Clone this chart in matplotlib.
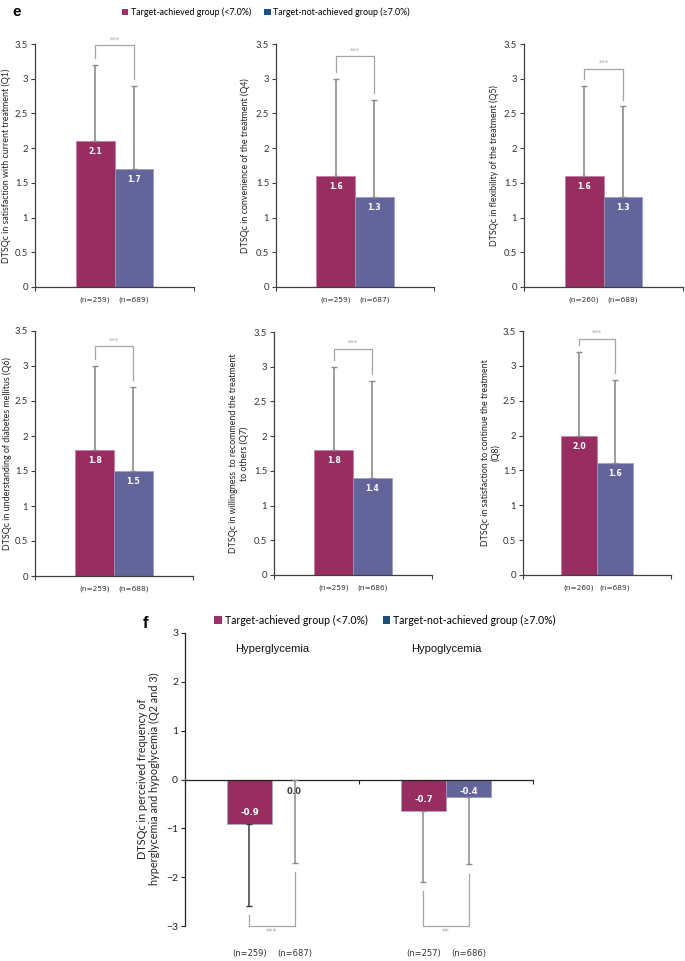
import matplotlib
matplotlib.use('Agg')
import matplotlib.pyplot as plt
from matplotlib.patches import Patch

# Panel e data (DTSQc items, mean and SD per group)
e_labels = ['DTSQc in satisfaction with current treatment (Q1)',
            'DTSQc in convenience of the treatment (Q4)',
            'DTSQc in flexibility of the treatment (Q5)',
            'DTSQc in understanding of diabetes mellitus (Q6)',
            'DTSQc in willingness  to recommend the treatment\nto others (Q7)',
            'DTSQc in satisfaction to continue the treatment\n(Q8)']
ach_mean = [2.1, 1.6, 1.6, 1.8, 1.8, 2.0]
ach_sd = [1.1, 1.4, 1.3, 1.2, 1.2, 1.2]
not_mean = [1.7, 1.3, 1.3, 1.5, 1.4, 1.6]
not_sd = [1.2, 1.4, 1.3, 1.2, 1.4, 1.2]
ach_n = [259, 259, 260, 259, 259, 260]
not_n = [689, 687, 688, 688, 686, 689]
e_sig = ['***', '***', '***', '***', '***', '***']
e_bracket = [3.48, 3.32, 3.14, 3.28, 3.26, 3.39]

# Panel f data
f_cats = ['Hyperglycemia', 'Hypoglycemia']
f_ach_mean = [-0.91, -0.64]
f_ach_text = ['-0.9', '-0.7']
f_ach_sd = [1.69, 1.46]
f_not_mean = [0.0, -0.36]
f_not_text = ['0.0', '-0.4']
f_not_sd = [1.70, 1.38]
f_ach_n = [259, 257]
f_not_n = [687, 686]
f_sig = ['***', '**']

MAG = '#982d61'
BLU = '#63659a'
ERR = '#8c8c8c'
AX = '#404040'
SIGC = '#a6a6a6'
MAIN = 'Lato'
NUM = 'DejaVu Sans'

W, H = 685, 961
fig = plt.figure(figsize=(6.85, 9.61), dpi=100)


def px_axes(x0, x1, ytop, ybot):
    return fig.add_axes([x0 / W, 1 - ybot / H, (x1 - x0) / W, (ybot - ytop) / H])


# pixel boxes of the six panels (left, right, top, zero line) and label centres
boxes = [(35, 194, 44, 287), (276, 434, 44, 287), (524, 683, 44, 287),
         (35, 193, 331, 576), (274, 432, 332, 575), (523, 671, 331, 575)]
lab_x = [6, 245.5, 494.5, 7, 239, 491]

for i, (x0, x1, yt, yb) in enumerate(boxes):
    ax = px_axes(x0, x1, yt, yb)
    xa, xb = -0.245, 0.245
    ax.bar([xa], [ach_mean[i]], width=0.49, color=MAG, edgecolor='#c77aa0', linewidth=0.5, zorder=2)
    ax.bar([xb], [not_mean[i]], width=0.49, color=BLU, edgecolor='#9899c0', linewidth=0.5, zorder=2)
    ax.errorbar([xa], [ach_mean[i]], yerr=[[0], [ach_sd[i]]], fmt='none', ecolor=ERR,
                elinewidth=1.2, capsize=2.2, capthick=1.0, zorder=3)
    ax.errorbar([xb], [not_mean[i]], yerr=[[0], [not_sd[i]]], fmt='none', ecolor=ERR,
                elinewidth=1.2, capsize=2.2, capthick=1.0, zorder=3)
    # value labels
    ax.text(xa, ach_mean[i] - 0.15, f'{ach_mean[i]:.1f}', color='white', fontweight='bold',
            fontsize=5.6, family=NUM, ha='center', va='center', zorder=4)
    ax.text(xb, not_mean[i] - 0.15, f'{not_mean[i]:.1f}', color='white', fontweight='bold',
            fontsize=5.6, family=NUM, ha='center', va='center', zorder=4)
    # significance bracket
    top = e_bracket[i]
    ax.plot([xa, xa, xb, xb], [ach_mean[i] + ach_sd[i] + 0.1, top, top, not_mean[i] + not_sd[i] + 0.1],
            color=SIGC, lw=0.9, zorder=3, clip_on=False)
    ax.text(0, top + 0.04, e_sig[i], color=SIGC, fontsize=5, ha='center', va='bottom', family=NUM)
    # n labels
    ax.text(xa, -0.04, f'(n={ach_n[i]})', fontsize=5.3, family=NUM, color='#333333',
            ha='center', va='top', transform=ax.get_xaxis_transform())
    ax.text(xb, -0.04, f'(n={not_n[i]})', fontsize=5.3, family=NUM, color='#333333',
            ha='center', va='top', transform=ax.get_xaxis_transform())
    ax.set_xlim(-1, 1)
    ax.set_ylim(0, 3.5)
    ax.set_yticks([0, 0.5, 1, 1.5, 2, 2.5, 3, 3.5])
    ax.set_yticklabels(['0', '0.5', '1', '1.5', '2', '2.5', '3', '3.5'])
    ax.set_xticks([-1, 1])
    ax.set_xticklabels([])
    ax.tick_params(axis='both', direction='out', length=3, width=0.8, color=AX,
                   labelsize=6.8, labelcolor='#333333', pad=2)
    for lbl in ax.get_yticklabels():
        lbl.set_family(MAIN)
    for s in ['top', 'right']:
        ax.spines[s].set_visible(False)
    for s in ['left', 'bottom']:
        ax.spines[s].set_color(AX)
        ax.spines[s].set_linewidth(0.9)
    fig.text(lab_x[i] / W, 1 - (yt + yb) / 2 / H, e_labels[i], rotation=90, ha='center',
             va='center', fontsize=6.4, family=MAIN, color='#222222', multialignment='center')

# panel f
axf = px_axes(185, 533, 633, 926)
xs = [0, 1]
off = 0.13
bw = 0.26
for j in range(2):
    xa, xb = xs[j] - off, xs[j] + off
    axf.bar([xa], [f_ach_mean[j]], width=bw, color=MAG, edgecolor='#a9a9d6', linewidth=0.6, zorder=2)
    axf.bar([xb], [f_not_mean[j]], width=bw, color=BLU, edgecolor='#9899c0', linewidth=0.6, zorder=2)
    axf.errorbar([xa], [f_ach_mean[j]], yerr=[[f_ach_sd[j]], [0]], fmt='none',
                 ecolor='#3a3a3a' if j == 0 else ERR, elinewidth=1.1, capsize=2.5, capthick=1.0, zorder=3)
    axf.errorbar([xb], [f_not_mean[j]], yerr=[[f_not_sd[j]], [0]], fmt='none', ecolor=ERR,
                 elinewidth=1.1, capsize=2.5, capthick=1.0, zorder=3)
    axf.text(xa, min(f_ach_mean[j] + 0.24, -0.25), f_ach_text[j], color='white', fontweight='bold',
             fontsize=6.1, family=NUM, ha='center', va='center', zorder=4)
    axf.text(xb, min(f_not_mean[j] + 0.24, -0.25), f_not_text[j],
             color='white' if f_not_mean[j] < -0.3 else '#404040', fontweight='bold',
             fontsize=6.1, family=NUM, ha='center', va='center', zorder=4)
    # bracket below
    axf.plot([xa, xa, xb, xb],
             [f_ach_mean[j] - f_ach_sd[j] - 0.18, -3, -3, f_not_mean[j] - f_not_sd[j] - 0.2],
             color=SIGC, lw=0.9, zorder=3, clip_on=False)
    axf.text(xs[j], -3.05, f_sig[j], color=SIGC, fontsize=5.5, ha='center', va='top', family=NUM)
    axf.text(xa, -3.57, f'(n={f_ach_n[j]})', fontsize=6, family=NUM, color='#333333',
             ha='center', va='center')
    axf.text(xb, -3.57, f'(n={f_not_n[j]})', fontsize=6, family=NUM, color='#333333',
             ha='center', va='center')
    axf.text(xs[j], 2.68, f_cats[j], fontsize=8, family='Liberation Sans', color='#111111',
             ha='center', va='center')

axf.set_xlim(-0.5, 1.5)
axf.set_ylim(-3, 3)
axf.set_yticks([-3, -2, -1, 0, 1, 2, 3])
axf.set_xticks([-0.5, 0.5, 1.5])
axf.set_xticklabels([])
axf.spines['bottom'].set_position(('data', 0))
for s in ['top', 'right']:
    axf.spines[s].set_visible(False)
for s in ['left', 'bottom']:
    axf.spines[s].set_color('#222222')
    axf.spines[s].set_linewidth(0.9)
axf.tick_params(axis='both', direction='out', length=3, width=0.8, color='#222222',
                labelsize=7.5, labelcolor='#222222', pad=2)
for lbl in axf.get_yticklabels():
    lbl.set_family(MAIN)
fig.text(148.5 / W, 1 - 779 / H,
         'DTSQc in perceived frequency of\nhyperglycemia and hypoglycemia (Q2 and 3)',
         rotation=90, ha='center', va='center', fontsize=7.8, family=MAIN, color='#222222',
         multialignment='center')

# panel letters
fig.text(12 / W, 1 - 12 / H, 'e', fontsize=11, fontweight='bold', family='Liberation Sans',
         ha='left', va='center')
fig.text(143 / W, 1 - 623 / H, 'f', fontsize=12, fontweight='bold', family='Liberation Sans',
         ha='left', va='center')

# legends
handles = [Patch(facecolor='#a0306a', label='Target-achieved group (<7.0%)'),
           Patch(facecolor='#1f4e79', label='Target-not-achieved group (≥7.0%)')]
fig.legend(handles=handles, loc='center', bbox_to_anchor=(266 / W, 1 - 12 / H), ncol=2,
           frameon=False, prop={'family': MAIN, 'size': 6.4}, handlelength=0.7, handleheight=0.7,
           handletextpad=0.3, columnspacing=1.5, borderpad=0)
fig.legend(handles=handles, loc='center', bbox_to_anchor=(385 / W, 1 - 620 / H), ncol=2,
           frameon=False, prop={'family': MAIN, 'size': 7.6}, handlelength=0.7, handleheight=0.7,
           handletextpad=0.3, columnspacing=1.4, borderpad=0)

fig.savefig('out.png', dpi=100)
